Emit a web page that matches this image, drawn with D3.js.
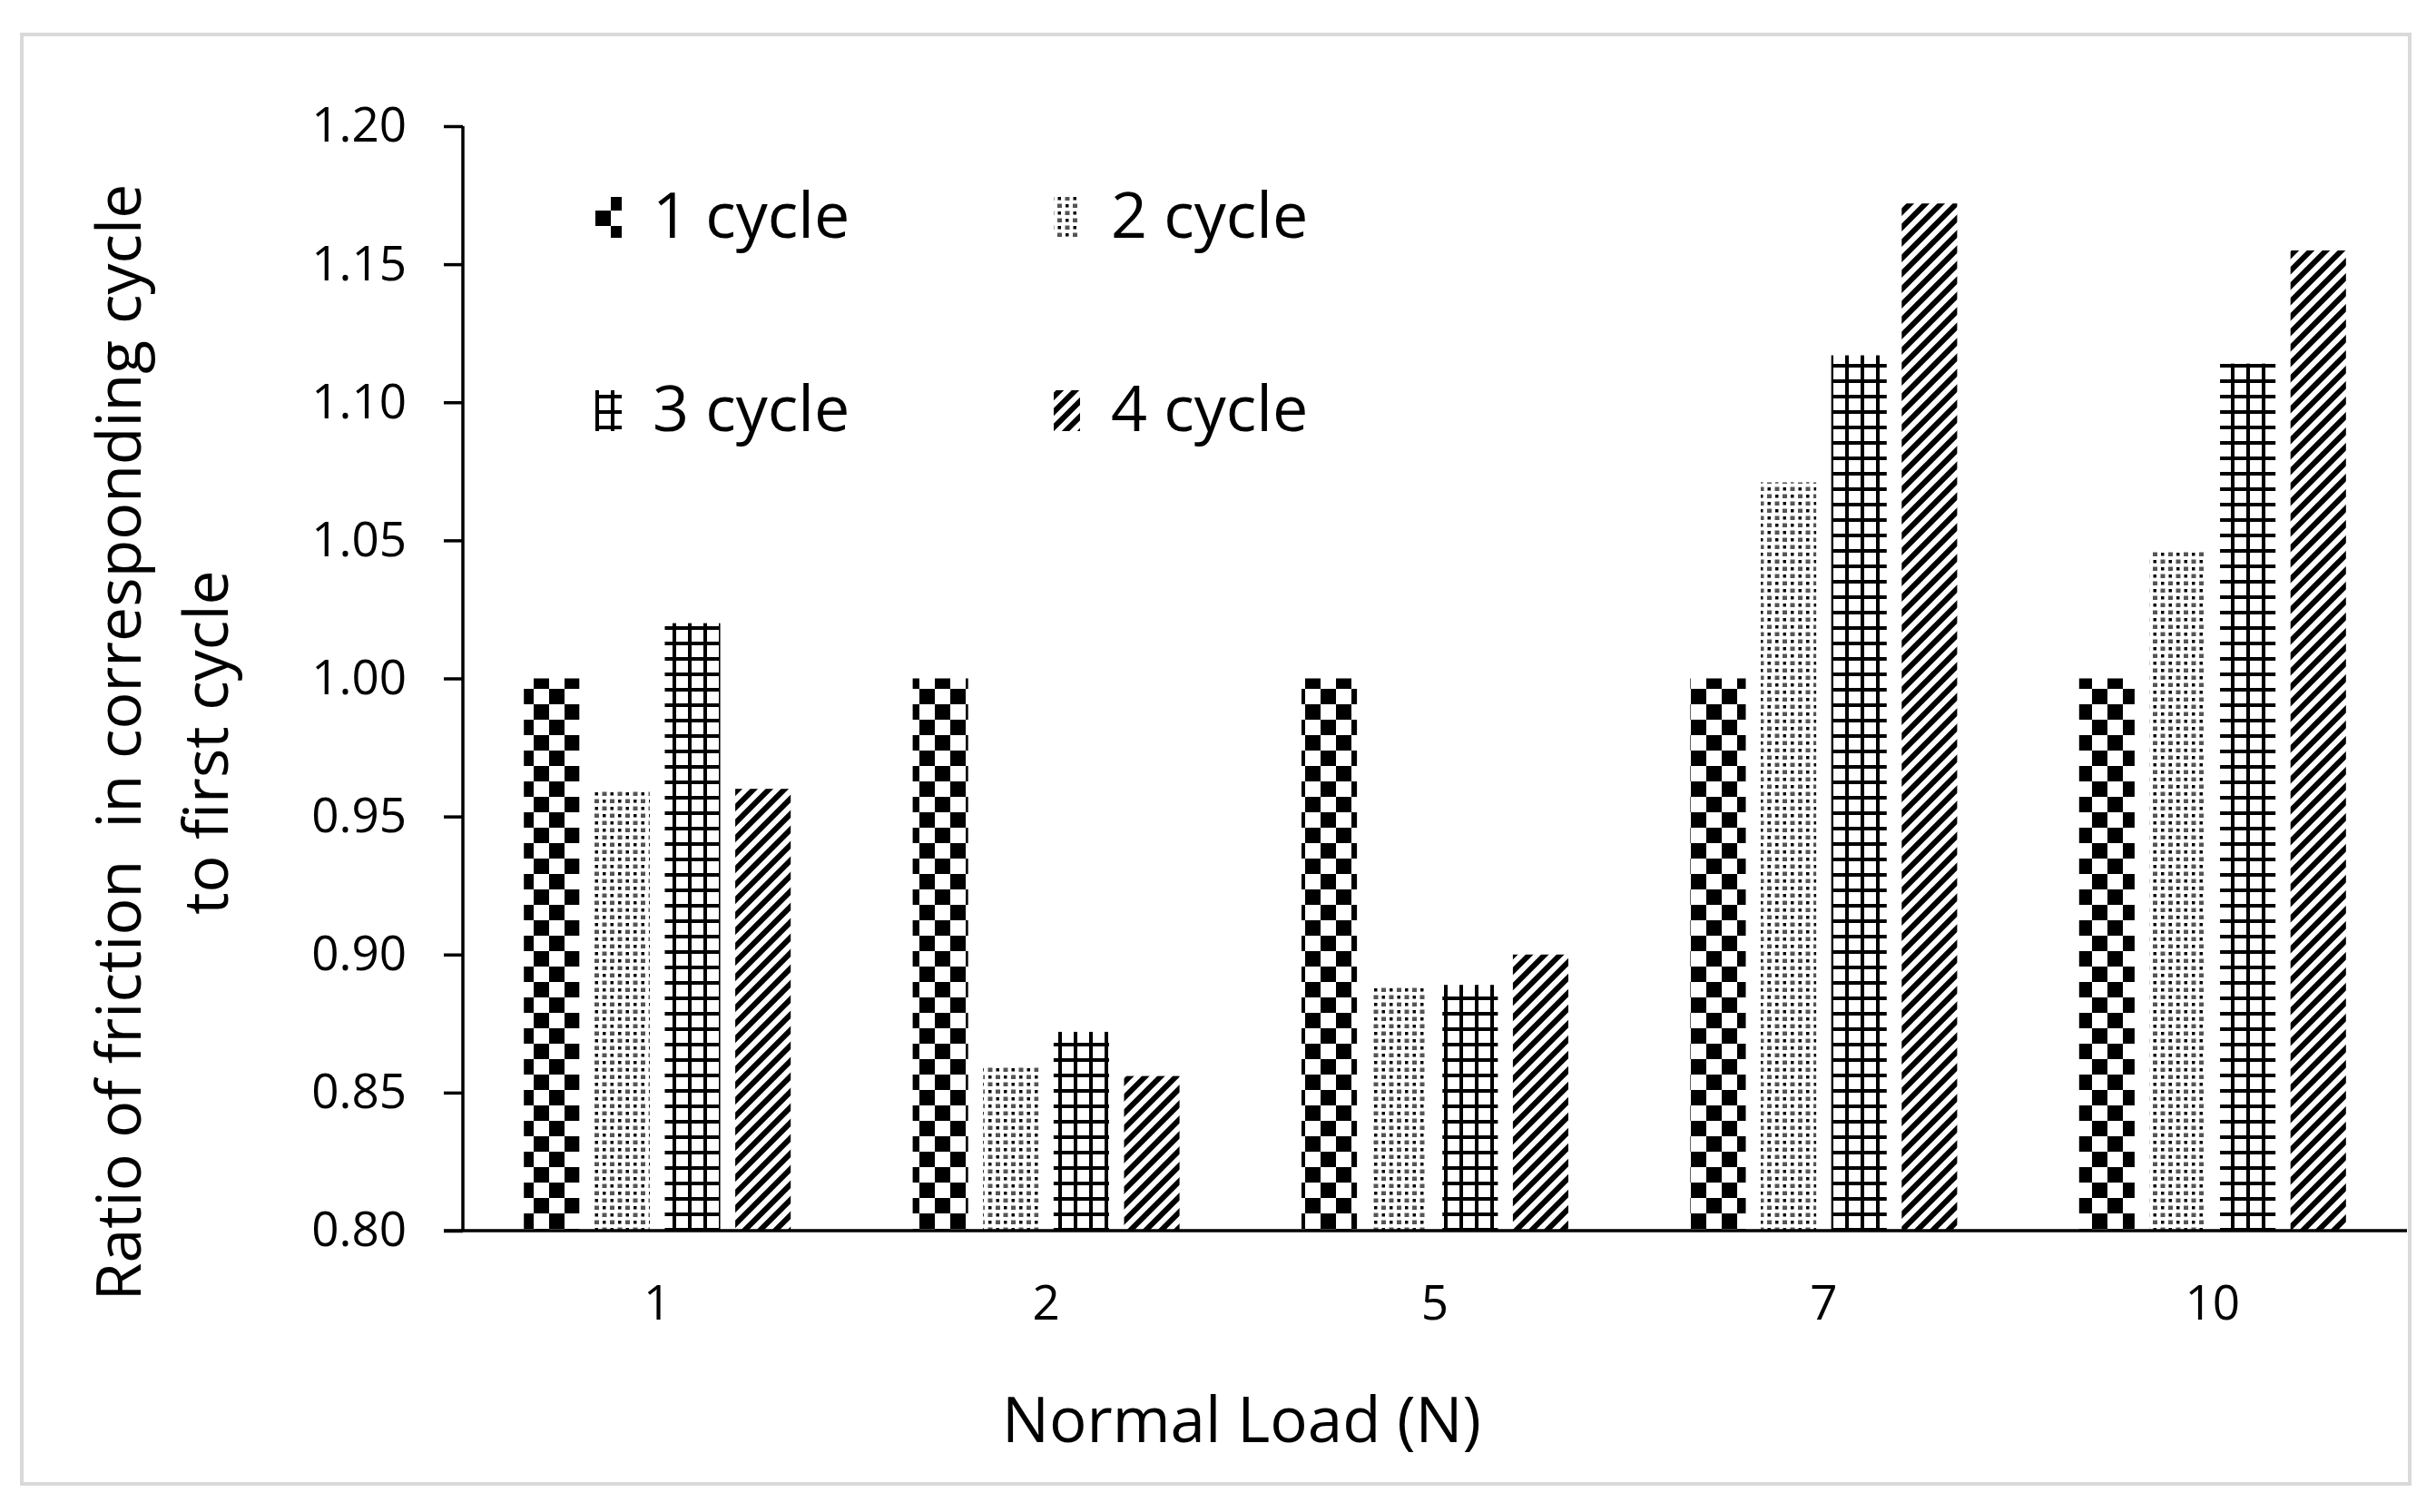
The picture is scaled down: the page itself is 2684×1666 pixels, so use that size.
<!DOCTYPE html>
<html>
<head>
<meta charset="utf-8">
<script src="https://cdn.jsdelivr.net/npm/d3@7"></script>
<style>
  html, body { margin: 0; padding: 0; background: #fff; }
  svg { display: block; }
  text { font-family: "Open Sans", "Noto Sans", sans-serif; fill: #000; }
</style>
</head>
<body>
<svg id="chart" width="2684" height="1666"></svg>
<script>
// ---- data ----
const categories = ["1", "2", "5", "7", "10"];
const seriesNames = ["1 cycle", "2 cycle", "3 cycle", "4 cycle"];
const cycle1 = [1.000, 1.000, 1.000, 1.000, 1.000];
const cycle2 = [0.960, 0.860, 0.889, 1.071, 1.046];
const cycle3 = [1.020, 0.872, 0.889, 1.117, 1.114];
const cycle4 = [0.960, 0.856, 0.900, 1.172, 1.155];
const yTicks = [0.80, 0.85, 0.90, 0.95, 1.00, 1.05, 1.10, 1.15, 1.20];
const xTitle = "Normal Load (N)";
const yTitle1 = "Ratio of friction  in corresponding cycle";
const yTitle2 = "to first cycle";

const seriesValues = [cycle1, cycle2, cycle3, cycle4];
const patternIds = ["pChecker", "pDots", "pGrid", "pDiag"];

// ---- layout ----
const W = 2684, H = 1666;
const plot = { left: 510, right: 2652, top: 139, bottom: 1356 };

const svg = d3.select("#chart");
svg.append("rect").attr("width", W).attr("height", H).attr("fill", "#fff");
svg.append("rect")
  .attr("x", 24).attr("y", 38).attr("width", 2631).attr("height", 1597)
  .attr("fill", "none").attr("stroke", "#d9d9d9").attr("stroke-width", 4);

// ---- patterns ----
const defs = svg.append("defs");
// large checkerboard
const pc = defs.append("pattern").attr("id", "pChecker").attr("patternUnits", "userSpaceOnUse")
  .attr("x", 10).attr("y", 11).attr("width", 34).attr("height", 34);
pc.append("rect").attr("width", 34).attr("height", 34).attr("fill", "#fff");
pc.append("rect").attr("x", 17).attr("y", 0).attr("width", 17).attr("height", 17).attr("fill", "#000");
pc.append("rect").attr("x", 0).attr("y", 17).attr("width", 17).attr("height", 17).attr("fill", "#000");
// dotted
const pd = defs.append("pattern").attr("id", "pDots").attr("patternUnits", "userSpaceOnUse")
  .attr("width", 17).attr("height", 16);
pd.append("rect").attr("width", 17).attr("height", 16).attr("fill", "#fff");
pd.append("rect").attr("x", 1).attr("y", 1).attr("width", 3.5).attr("height", 3.5).attr("fill", "#000");
pd.append("rect").attr("x", 9.5).attr("y", 9).attr("width", 3.5).attr("height", 3.5).attr("fill", "#000");
pd.append("rect").attr("x", 9).attr("y", 0.5).attr("width", 5).attr("height", 4.5).attr("fill", "#555");
pd.append("rect").attr("x", 0.5).attr("y", 8.5).attr("width", 5).attr("height", 4.5).attr("fill", "#555");
// large grid
const pg = defs.append("pattern").attr("id", "pGrid").attr("patternUnits", "userSpaceOnUse")
  .attr("x", 10).attr("y", 10).attr("width", 17).attr("height", 17);
pg.append("rect").attr("width", 17).attr("height", 17).attr("fill", "#fff");
pg.append("rect").attr("x", 0).attr("y", 0).attr("width", 4).attr("height", 17).attr("fill", "#000");
pg.append("rect").attr("x", 0).attr("y", 0).attr("width", 17).attr("height", 4).attr("fill", "#000");
// wide upward diagonal
const pw = defs.append("pattern").attr("id", "pDiag").attr("patternUnits", "userSpaceOnUse")
  .attr("width", 17).attr("height", 17);
pw.append("rect").attr("width", 17).attr("height", 17).attr("fill", "#fff");
pw.append("path").attr("d", "M-3,3 L3,-3 M-1,18 L18,-1 M14,20 L20,14")
  .attr("stroke", "#000").attr("stroke-width", 6);

// ---- scales ----
const x0 = d3.scaleBand().domain(categories).range([plot.left, plot.right]).padding(0);
const groupW = 294;
const x1 = d3.scaleBand().domain(seriesNames).range([0, groupW]).paddingInner(0.213).paddingOuter(0);
const y = d3.scaleLinear().domain([0.80, 1.20]).range([plot.bottom, plot.top]);

// ---- bars ----
const barsG = svg.append("g");
seriesNames.forEach((s, si) => {
  barsG.append("g").selectAll("rect")
    .data(categories.map((c, ci) => ({ c, v: seriesValues[si][ci] })))
    .join("rect")
    .attr("x", d => x0(d.c) + x0.bandwidth() / 2 - groupW / 2 + x1(s))
    .attr("width", x1.bandwidth())
    .attr("y", d => y(d.v))
    .attr("height", d => y(0.80) - y(d.v))
    .attr("fill", `url(#${patternIds[si]})`);
});

// ---- axes ----
const yAxis = d3.axisLeft(y).tickValues(yTicks).tickFormat(d3.format(".2f")).tickSize(21).tickPadding(41);
const yg = svg.append("g").attr("transform", `translate(${plot.left},0)`).call(yAxis);
yg.select(".domain").attr("stroke", "#000").attr("stroke-width", 3.5).attr("d", `M0,${plot.top}V${plot.bottom}`);
yg.selectAll(".tick line").attr("stroke", "#000").attr("stroke-width", 3.5);
yg.selectAll(".tick text").attr("font-size", 53).attr("fill", "#1a1a1a")
  .style("font-family", '"Open Sans", sans-serif');

const xAxis = d3.axisBottom(x0).tickSize(0).tickPadding(60);
const xg = svg.append("g").attr("transform", `translate(0,${plot.bottom})`).call(xAxis);
xg.select(".domain").attr("stroke", "#000").attr("stroke-width", 3.5)
  .attr("d", `M${plot.left - 21},0H${plot.right}`);
xg.selectAll(".tick text").attr("font-size", 53).attr("fill", "#1a1a1a")
  .style("font-family", '"Open Sans", sans-serif');

// ---- titles ----
svg.append("text")
  .attr("x", 1368).attr("y", 1589)
  .attr("text-anchor", "middle").attr("font-size", 69)
  .text(xTitle);

const yt = svg.append("g").attr("transform", "translate(0,818) rotate(-90)");
yt.append("text").attr("x", 0).attr("y", 155).attr("text-anchor", "middle")
  .attr("font-size", 68).style("white-space", "pre").text(yTitle1);
yt.append("text").attr("x", 0).attr("y", 251).attr("text-anchor", "middle")
  .attr("font-size", 68).text(yTitle2);

// ---- legend ----
const legendPos = [
  { mx: 656, ty: 262 },
  { mx: 1161, ty: 262 },
  { mx: 656, ty: 475 },
  { mx: 1161, ty: 475 }
];
const lg = svg.append("g");
seriesNames.forEach((s, i) => {
  const p = legendPos[i];
  lg.append("rect").attr("x", p.mx).attr("y", p.ty - 45).attr("width", 29).attr("height", 45)
    .attr("fill", `url(#${patternIds[i]})`);
  lg.append("text").attr("x", p.mx + 63).attr("y", p.ty).attr("font-size", 70).text(s);
});
</script>
</body>
</html>
